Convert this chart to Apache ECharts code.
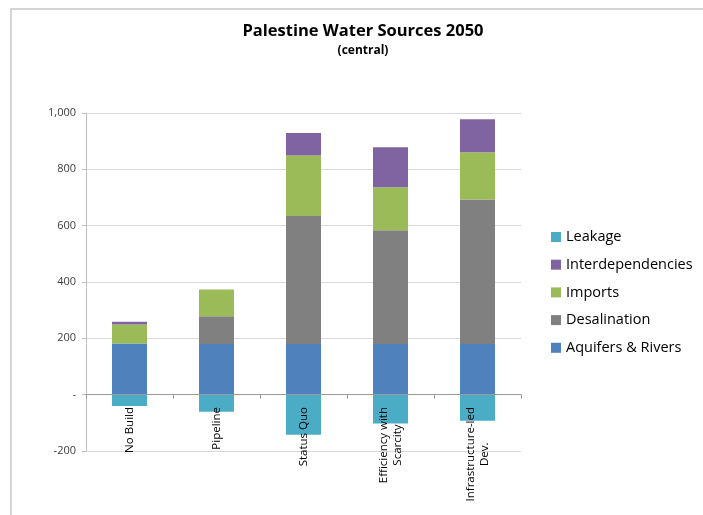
<!DOCTYPE html>
<html>
<head>
<meta charset="utf-8">
<title>Palestine Water Sources 2050</title>
<script src="https://cdn.jsdelivr.net/npm/echarts@6/dist/echarts.min.js"></script>
<style>
  html, body { margin: 0; padding: 0; background: #ffffff; }
  #chart { width: 703px; height: 515px; }
</style>
</head>
<body>
<div id="chart"></div>
<script>
// Scenarios on the category axis
const categories = ['No Build', 'Pipeline', 'Status Quo', 'Efficiency with\nScarcity', 'Infrastructure-led\nDev.'];

// Supply by source for each scenario (leakage is a loss, so negative)
const aquifersRivers   = [182, 180, 180, 180, 180];
const desalination     = [0, 98, 454, 404, 513];
const imports          = [67, 95, 215, 152, 168];
const interdependencies = [10, 0, 80, 142, 117];
const leakage          = [-40, -61, -142, -102, -93];

// Value axis range and steps
const yMin = -200;
const yMax = 1000;
const yStep = 200;

const colors = {
  'Aquifers & Rivers': '#4f81bd',
  'Desalination': '#808080',
  'Imports': '#9bbb59',
  'Interdependencies': '#8064a2',
  'Leakage': '#4bacc6'
};

const font = '"Open Sans", "Noto Sans", sans-serif';

function bar(name, data) {
  return {
    name: name,
    type: 'bar',
    stack: 'total',
    barWidth: 35,
    data: data,
    itemStyle: { color: colors[name] },
    emphasis: { disabled: true }
  };
}

const chart = echarts.init(document.getElementById('chart'), null, { renderer: 'canvas' });

chart.setOption({
  animation: false,
  backgroundColor: '#ffffff',
  textStyle: { fontFamily: font },
  graphic: [{
    type: 'rect',
    shape: { x: 11, y: 9, width: 1000, height: 1000 },
    style: { fill: 'none', stroke: '#c6c6c6', lineWidth: 1.5 },
    silent: true
  }],
  title: {
    text: 'Palestine Water Sources 2050',
    subtext: '(central)',
    left: 358,
    textAlign: 'center',
    top: 18,
    itemGap: 5,
    textStyle: { fontFamily: font, fontSize: 16.5, fontWeight: 'bold', color: '#000000' },
    subtextStyle: { fontFamily: font, fontSize: 12, fontWeight: 'bold', color: '#000000' }
  },
  legend: {
    orient: 'vertical',
    left: 546,
    top: 223,
    itemWidth: 10,
    itemHeight: 10,
    itemGap: 9.7,
    icon: 'rect',
    data: ['Leakage', 'Interdependencies', 'Imports', 'Desalination', 'Aquifers & Rivers'],
    textStyle: { fontFamily: font, fontSize: 14.5, lineHeight: 18, color: '#000000' }
  },
  grid: {
    left: 86,
    right: 182,
    top: 113,
    bottom: 64,
    containLabel: false,
    outerBoundsMode: 'none'
  },
  xAxis: {
    type: 'category',
    data: categories,
    z: 10,
    axisLine: { onZero: true, lineStyle: { color: '#9a9a9a', width: 1 } },
    axisTick: { show: true, length: 4, alignWithLabel: false, lineStyle: { color: '#9a9a9a' } },
    axisLabel: {
      rotate: 90,
      // labels hang from the zero line, 56px above the grid's bottom edge
      margin: -44,
      interval: 0,
      color: '#000000',
      fontSize: 11.5,
      fontFamily: font,
      formatter: function (v) {
        return v.split('\n').map(function (s) { return '{c|' + s + '}'; }).join('\n');
      },
      rich: {
        c: { align: 'center', fontSize: 11.5, fontFamily: font, color: '#000000', lineHeight: 14 }
      }
    },
    splitLine: { show: false }
  },
  yAxis: {
    type: 'value',
    min: yMin,
    max: yMax,
    interval: yStep,
    axisLine: { show: true, lineStyle: { color: '#bfbfbf' } },
    axisTick: { show: true, length: 4, lineStyle: { color: '#bfbfbf' } },
    axisLabel: {
      color: '#404040',
      fontSize: 11,
      fontFamily: font,
      margin: 10,
      formatter: function (v) {
        if (v === 0) return '-';
        return v.toLocaleString('en-US');
      }
    },
    splitLine: { show: true, lineStyle: { color: '#d9d9d9', width: 1 } }
  },
  series: [
    bar('Aquifers & Rivers', aquifersRivers),
    bar('Desalination', desalination),
    bar('Imports', imports),
    bar('Interdependencies', interdependencies),
    bar('Leakage', leakage)
  ]
});
</script>
</body>
</html>
